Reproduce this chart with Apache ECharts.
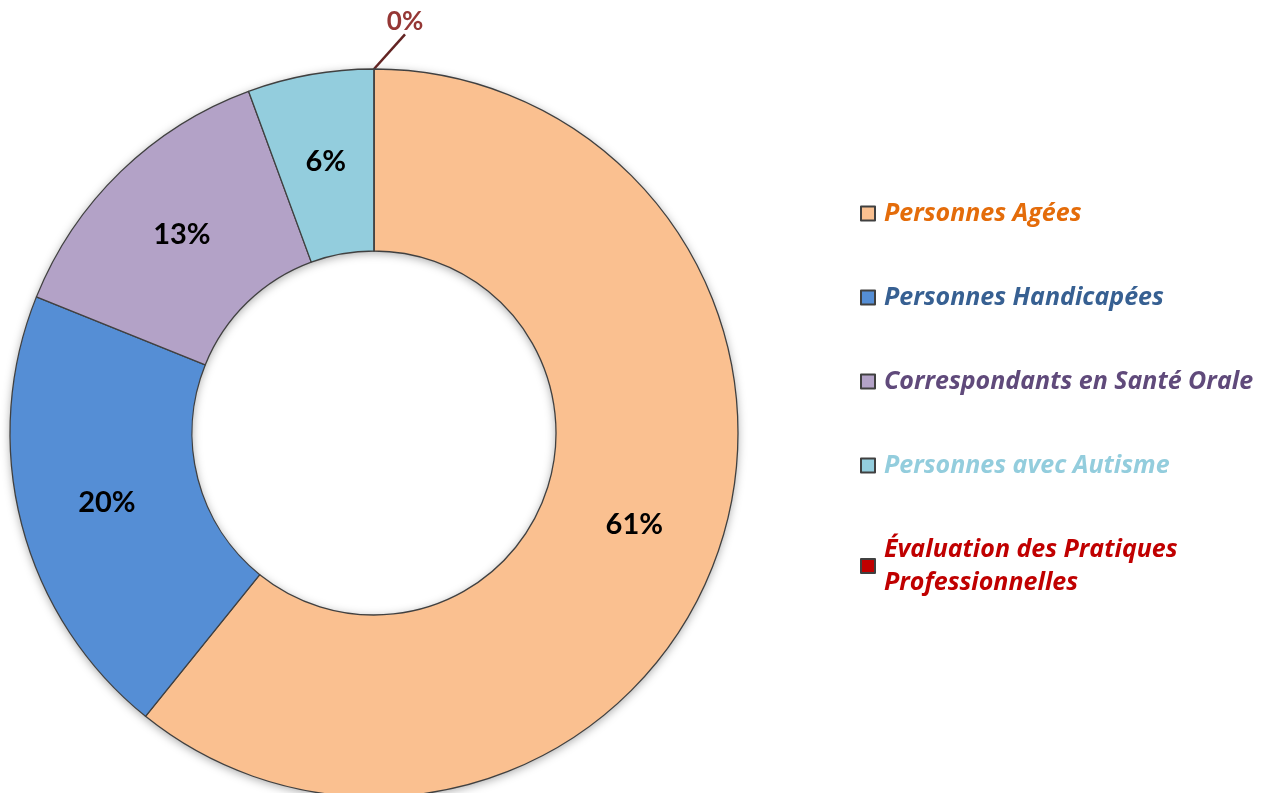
<!DOCTYPE html>
<html>
<head>
<meta charset="utf-8">
<script src="https://cdn.jsdelivr.net/npm/echarts@6/dist/echarts.min.js"></script>
<style>
  html, body { margin: 0; padding: 0; background: #fff; }
  #chart { width: 1273px; height: 793px; }
</style>
</head>
<body>
<div id="chart"></div>
<script>
var categories = ['Personnes Agées', 'Personnes Handicapées', 'Correspondants en Santé Orale', 'Personnes avec Autisme', 'Évaluation des Pratiques Professionnelles'];
var values = [60.8, 20.3, 13.3, 5.6, 0];
var sliceColors = ['#FAC090', '#558ED5', '#B3A2C7', '#93CDDD', '#C00000'];
var legendColors = ['#E46C0A', '#376092', '#604A7B', '#93CDDD', '#C00000'];

var labelFont = 'Lato, "Open Sans", sans-serif';
var legendFont = '"Open Sans", Lato, sans-serif';

var myChart = echarts.init(document.getElementById('chart'));

var pieData = categories.map(function (name, i) {
    var item = {
        name: name,
        value: values[i],
        itemStyle: { color: sliceColors[i] }
    };
    if (i === 4) {
        // la part à 0% est étiquetée à l'extérieur
        item.label = {
            position: 'outside',
            color: '#953735',
            fontSize: 26,
            fontWeight: 'bold'
        };
        item.labelLine = {
            show: true,
            length: 20,
            length2: 0,
            lineStyle: { color: '#632423', width: 2.5 }
        };
    }
    return item;
});

var option = {
    backgroundColor: '#ffffff',
    animation: false,
    legend: {
        orient: 'vertical',
        left: 860,
        top: 197,
        padding: 0,
        itemWidth: 14,
        itemHeight: 14,
        itemGap: 51,
        icon: 'rect',
        selectedMode: false,
        itemStyle: { borderColor: '#404040', borderWidth: 2 },
        textStyle: {
            fontFamily: legendFont,
            fontSize: 25,
            fontWeight: 'bold',
            fontStyle: 'italic',
            lineHeight: 33,
            padding: [0, 0, 0, 4]
        },
        formatter: function (name) {
            if (name === categories[4]) return 'Évaluation des Pratiques\nProfessionnelles';
            return name;
        },
        data: categories.map(function (name, i) {
            return { name: name, textStyle: { color: legendColors[i] } };
        })
    },
    series: [{
        // ombre sous l'anneau
        type: 'pie',
        silent: true,
        center: [374, 433],
        radius: [182, 364],
        label: { show: false },
        labelLine: { show: false },
        itemStyle: {
            color: '#ffffff',
            shadowBlur: 10,
            shadowColor: 'rgba(0,0,0,0.35)',
            shadowOffsetY: 2
        },
        data: [{ value: 1, name: '' }],
        z: 1
    }, {
        name: 'main',
        type: 'pie',
        center: [374, 433],
        radius: [182, 364],
        startAngle: 90,
        clockwise: true,
        avoidLabelOverlap: false,
        itemStyle: {
            borderColor: '#404040',
            borderWidth: 1.3
        },
        label: {
            show: true,
            position: 'inside',
            color: '#000000',
            fontFamily: labelFont,
            fontSize: 29,
            fontWeight: 'bold',
            formatter: function (p) {
                return Math.round(p.percent) + '%';
            }
        },
        labelLine: { show: false },
        labelLayout: function (params) {
            if (params.dataIndex !== 4) return {};
            var r = params.rect;
            var x0 = r.x + r.width / 2;
            return {
                x: x0 + 31,
                y: r.y - 47,
                align: 'center',
                verticalAlign: 'middle'
            };
        },
        data: pieData,
        z: 2
    }]
};

myChart.setOption(option);
</script>
</body>
</html>
